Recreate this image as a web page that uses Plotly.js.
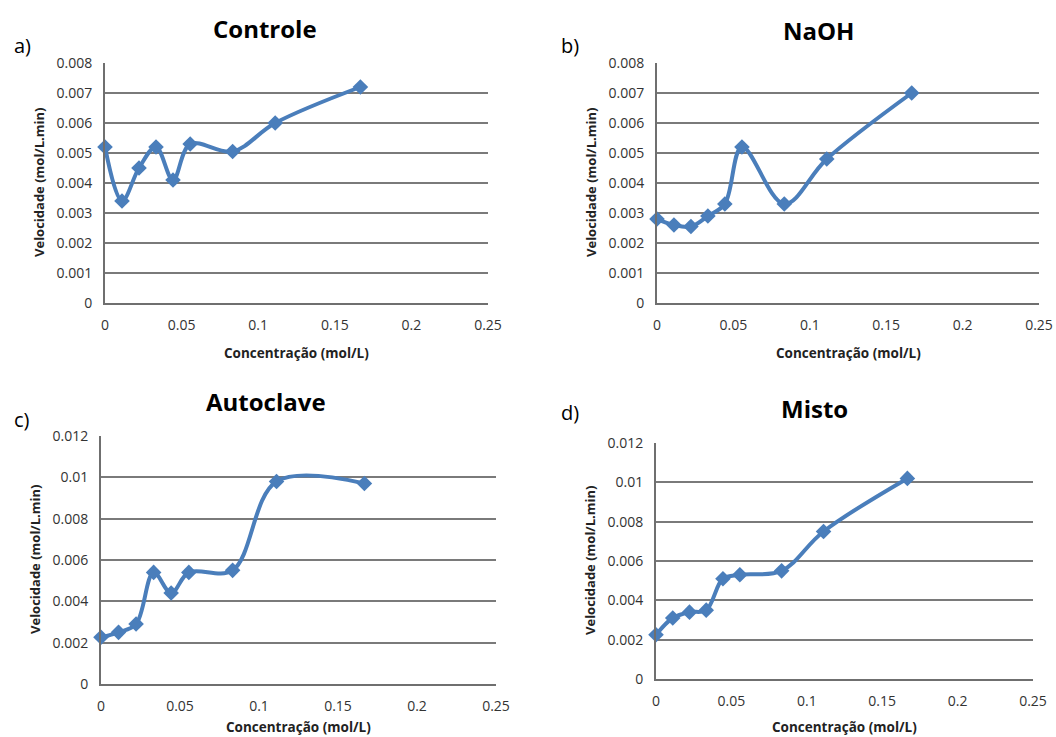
<!DOCTYPE html>
<html>
<head>
<meta charset="utf-8">
<script src="https://cdn.plot.ly/plotly-3.0.1.min.js"></script>
<style>html,body{margin:0;padding:0;background:#fff;}#chart{width:1056px;height:737px;}</style>
</head>
<body>
<div id="chart"></div>
<script>
// Data
var concentracao = [0, 0.0111, 0.0222, 0.0333, 0.0444, 0.0556, 0.0833, 0.1111, 0.1667];
var controle  = [0.0052, 0.0034, 0.0045, 0.0052, 0.0041, 0.0053, 0.00505, 0.0060, 0.0072];
var naoh      = [0.0028, 0.0026, 0.00255, 0.0029, 0.0033, 0.0052, 0.0033, 0.0048, 0.0070];
var autoclave = [0.00226, 0.0025, 0.0029, 0.0054, 0.0044, 0.0054, 0.0055, 0.0098, 0.0097];
var misto     = [0.00225, 0.0031, 0.0034, 0.0035, 0.0051, 0.0053, 0.0055, 0.0075, 0.0102];
var xTickVals = [0, 0.05, 0.1, 0.15, 0.2, 0.25];
var xTickText = ["0", "0.05", "0.1", "0.15", "0.2", "0.25"];
var yTickValsAB = [0, 0.001, 0.002, 0.003, 0.004, 0.005, 0.006, 0.007, 0.008];
var yTickTextAB = ["0", "0.001", "0.002", "0.003", "0.004", "0.005", "0.006", "0.007", "0.008"];
var yTickValsCD = [0, 0.002, 0.004, 0.006, 0.008, 0.01, 0.012];
var yTickTextCD = ["0", "0.002", "0.004", "0.006", "0.008", "0.01", "0.012"];
var panelTitles = ["Controle", "NaOH", "Autoclave", "Misto"];
var panelLetters = ["a)", "b)", "c)", "d)"];
var xTitle = "Concentração (mol/L)";
var yTitle = "Velocidade (mol/L.min)";

var W = 1056, H = 737;
function px(x){ return x / W; }
function py(y){ return 1 - y / H; }

// pixel boxes [left, right, top, bottom]
var boxes = [
  [105, 488, 63, 303],
  [657, 1039, 63, 303],
  [101, 496, 436, 684],
  [656, 1033, 443, 679]
];
var yRanges = [[0, 0.008], [0, 0.008], [0, 0.012], [0, 0.012]];
var yVals = [yTickValsAB, yTickValsAB, yTickValsCD, yTickValsCD];
var yTexts = [yTickTextAB, yTickTextAB, yTickTextCD, yTickTextCD];
var series = [controle, naoh, autoclave, misto];
var titlePos = [[265, 28], [818, 30], [266, 402], [814, 408]];
var letterPos = [[22, 45], [570, 45], [22, 420], [570, 412]];
var xTitlePos = [353, 353, 727, 727];

var blue = '#4A7EBB';
var traces = [];
var layout = {
  width: W, height: H,
  margin: {l: 0, r: 0, t: 0, b: 0},
  paper_bgcolor: '#fff', plot_bgcolor: '#fff',
  showlegend: false,
  font: {family: 'Open Sans, sans-serif', color: '#333'},
  annotations: []
};

for (var i = 0; i < 4; i++) {
  var b = boxes[i];
  var xa = i === 0 ? 'x' : 'x' + (i + 1);
  var ya = i === 0 ? 'y' : 'y' + (i + 1);
  traces.push({
    x: concentracao, y: series[i], xaxis: xa, yaxis: ya,
    type: 'scatter', mode: 'lines+markers',
    line: {color: blue, width: 4, shape: 'spline', smoothing: 1},
    marker: {symbol: 'diamond', size: 12, color: blue},
    cliponaxis: false
  });
  var xk = i === 0 ? 'xaxis' : 'xaxis' + (i + 1);
  var yk = i === 0 ? 'yaxis' : 'yaxis' + (i + 1);
  layout[xk] = {
    domain: [px(b[0]), px(b[1])], anchor: ya,
    range: [0, 0.25],
    tickmode: 'array', tickvals: xTickVals, ticktext: xTickText,
    showgrid: false, zeroline: false,
    showline: true, linecolor: '#6f6f6f', linewidth: 2,
    ticks: '', ticklabelstandoff: 8,
    tickfont: {size: 14, color: '#333', family: 'Open Sans, sans-serif'},
    fixedrange: true
  };
  layout[yk] = {
    domain: [py(b[3]), py(b[2])], anchor: xa,
    range: yRanges[i],
    tickmode: 'array', tickvals: yVals[i], ticktext: yTexts[i],
    showgrid: true, gridcolor: '#7a7a7a', gridwidth: 2,
    zeroline: false,
    showline: true, linecolor: '#6f6f6f', linewidth: 2,
    ticks: '', ticklabelstandoff: 8,
    tickfont: {size: 14, color: '#333', family: 'Open Sans, sans-serif'},
    fixedrange: true
  };
  layout.annotations.push({
    text: '<b>' + panelTitles[i] + '</b>', xref: 'paper', yref: 'paper',
    x: px(titlePos[i][0]), y: py(titlePos[i][1]), xanchor: 'center', yanchor: 'middle',
    showarrow: false, font: {size: 24, color: '#000', family: 'Open Sans, sans-serif'}
  });
  layout.annotations.push({
    text: panelLetters[i], xref: 'paper', yref: 'paper',
    x: px(letterPos[i][0]), y: py(letterPos[i][1]), xanchor: 'center', yanchor: 'middle',
    showarrow: false, font: {size: 20, color: '#000', family: 'Open Sans, sans-serif'}
  });
  layout.annotations.push({
    text: '<b>' + xTitle + '</b>', xref: 'paper', yref: 'paper',
    x: px((b[0] + b[1]) / 2), y: py(xTitlePos[i]), xanchor: 'center', yanchor: 'middle',
    showarrow: false, font: {size: 13.5, color: '#222', family: 'Open Sans, sans-serif'}
  });
  layout.annotations.push({
    text: '<b>' + yTitle + '</b>', xref: 'paper', yref: 'paper',
    x: px(b[0] - 66), y: py((b[2] + b[3]) / 2), xanchor: 'center', yanchor: 'middle',
    textangle: -90,
    showarrow: false, font: {size: 13, color: '#222', family: 'Open Sans, sans-serif'}
  });
}

Plotly.newPlot('chart', traces, layout, {displayModeBar: false, staticPlot: true});
</script>
</body>
</html>
